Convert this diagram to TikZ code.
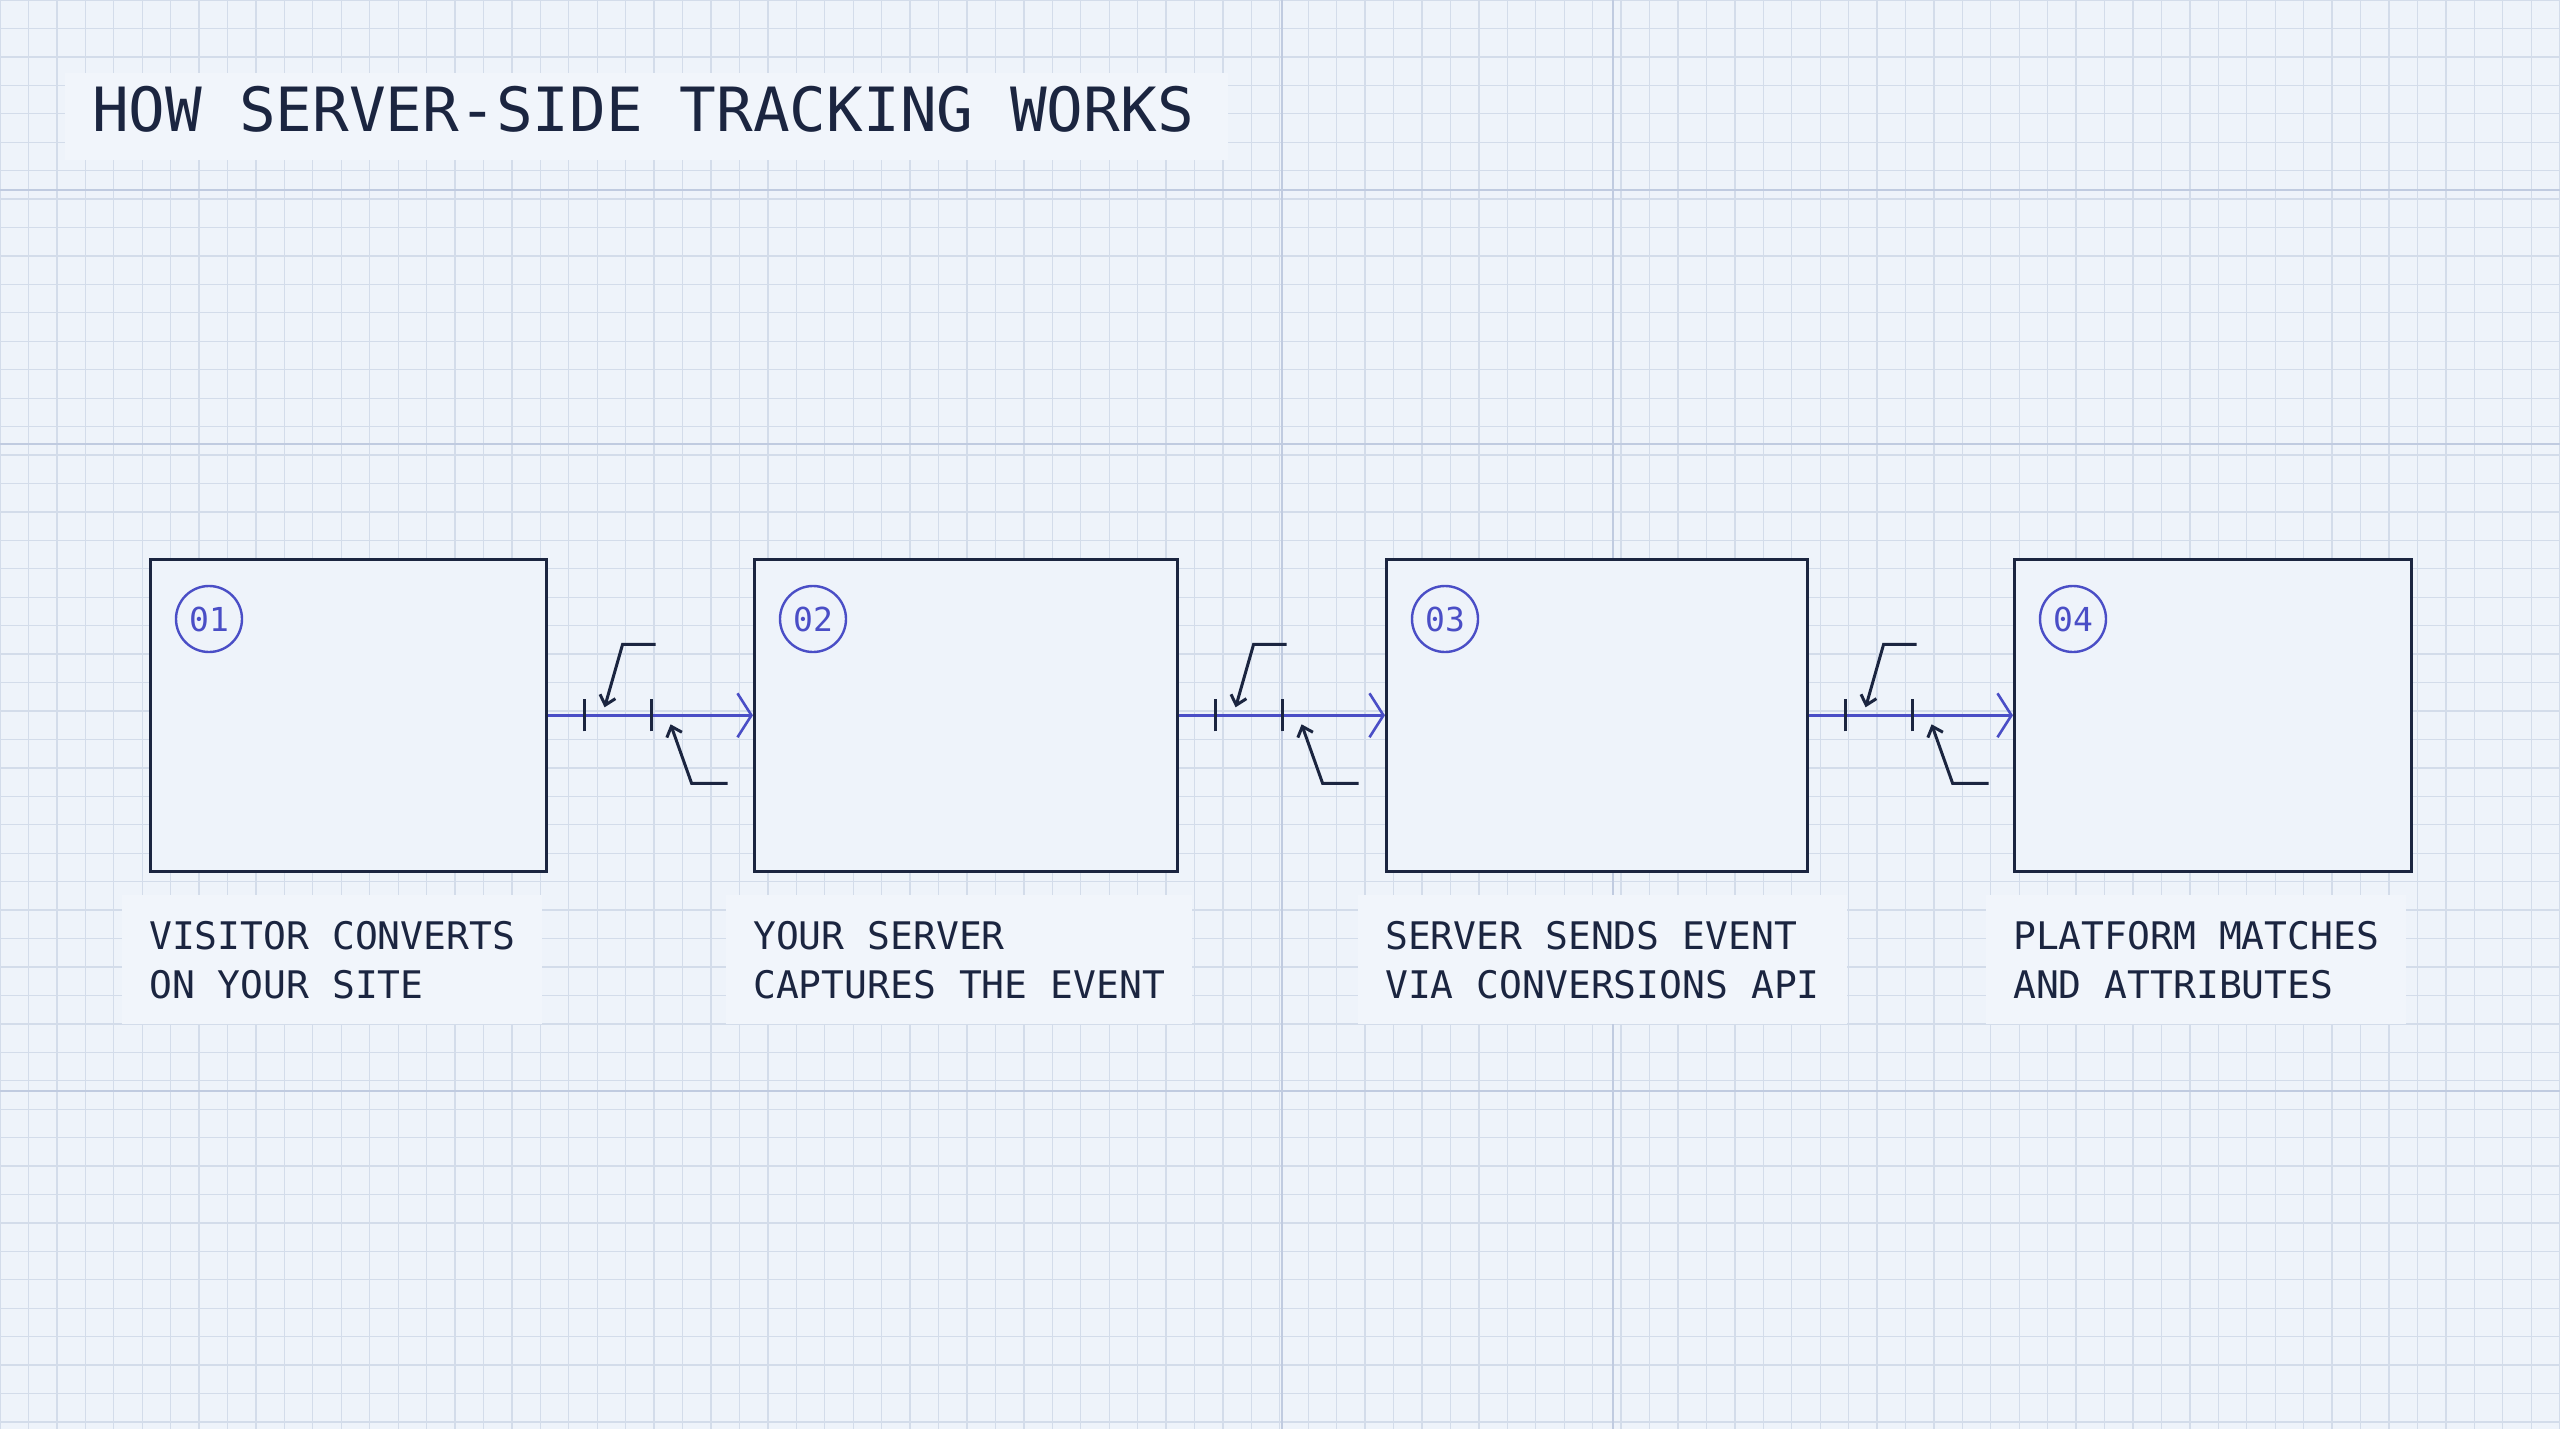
\documentclass[tikz,border=0pt]{standalone}
\usepackage{fontspec}
\setmonofont{DejaVu Sans Mono}
\usetikzlibrary{arrows.meta}
\definecolor{bg}{HTML}{EEF3FA}
\definecolor{gridc}{HTML}{D3DCEA}
\definecolor{gridm}{HTML}{C0CBE0}
\definecolor{navy}{HTML}{1B2540}
\definecolor{blu}{HTML}{4A4EC6}
\definecolor{lbl}{HTML}{F1F5FB}
\begin{document}
\begin{tikzpicture}[x=1pt,y=-1pt,
  box/.style={draw=navy,line width=2.6pt,fill=bg,minimum width=#1,minimum height=312pt,anchor=north west,inner sep=0pt},
  num/.style={draw=blu,line width=2.4pt,circle,minimum size=66pt,inner sep=0pt,font=\ttfamily\fontsize{33}{35}\selectfont,text=blu},
  lab/.style={anchor=north west,fill=lbl,inner xsep=27pt,inner ysep=14pt,align=left,font=\ttfamily\fontsize{38}{49}\selectfont,text=navy},
  flow/.style={draw=blu,line width=2.6pt,-{Straight Barb[length=14pt,width=44pt,line width=2.6pt]}},
  tick/.style={draw=navy,line width=3pt},
  call/.style={draw=navy,line width=3pt,-{Straight Barb[length=9pt,width=16pt,line width=3pt]}}]
\fill[bg] (0,0) rectangle (2560,1429);
\useasboundingbox (0,0) rectangle (2560,1429);
\foreach \i in {0,...,90} \draw[gridc,line width=1.3pt] (\i*28.44,0) -- (\i*28.44,1429);
\foreach \i in {0,...,51} \draw[gridc,line width=1.3pt] (0,\i*28.44) -- (2560,\i*28.44);
\foreach \x in {1282,1613} \draw[gridm,line width=1.6pt] (\x,0) -- (\x,1429);
\foreach \y in {190,444,1091} \draw[gridm,line width=1.6pt] (0,\y) -- (2560,\y);
\node[fill=lbl,anchor=north west,minimum width=1163pt,minimum height=87pt,inner sep=0pt] (tbg) at (65,73) {};
\node[anchor=west,inner sep=0pt,text=navy,font=\ttfamily\fontsize{61}{61}\selectfont] (title) at (92,109) {HOW SERVER-SIDE TRACKING WORKS};
\node[box=396pt] (b1) at (149,558) {};
\node[box=423pt] (b2) at (753,558) {};
\node[box=421pt] (b3) at (1385,558) {};
\node[box=397pt] (b4) at (2013,558) {};
\foreach \b/\n in {b1/01,b2/02,b3/03,b4/04} \node[num] (n\b) at ([xshift=60pt,yshift=-61pt]\b.north west) {\n};
\node[lab] (l1) at (122,895) {\rule{0pt}{40pt}VISITOR CONVERTS\\ON YOUR SITE\rule[-12pt]{0pt}{1pt}};
\node[lab] (l2) at (726,895) {\rule{0pt}{40pt}YOUR SERVER\\CAPTURES THE EVENT\rule[-12pt]{0pt}{1pt}};
\node[lab] (l3) at (1358,895) {\rule{0pt}{40pt}SERVER SENDS EVENT\\VIA CONVERSIONS API\rule[-12pt]{0pt}{1pt}};
\node[lab] (l4) at (1986,895) {\rule{0pt}{40pt}PLATFORM MATCHES\\AND ATTRIBUTES\rule[-12pt]{0pt}{1pt}};
\foreach \a/\c in {b1/b2,b2/b3,b3/b4}{
  \coordinate (s\a) at (\a.east);
  \draw[flow] (\a.east) -- (\c.west);
  \draw[tick] ([xshift=37pt,yshift=-16pt]s\a) -- ([xshift=37pt,yshift=16pt]s\a);
  \draw[tick] ([xshift=104pt,yshift=-16pt]s\a) -- ([xshift=104pt,yshift=16pt]s\a);
  \coordinate (u1\a) at ([xshift=108pt,yshift=71pt]s\a);
  \coordinate (u2\a) at ([xshift=75pt,yshift=71pt]s\a);
  \coordinate (u3\a) at ([xshift=57pt,yshift=8pt]s\a);
  \draw[call] (u1\a) -- (u2\a) -- (u3\a);
  \coordinate (d1\a) at ([xshift=180pt,yshift=-68pt]s\a);
  \coordinate (d2\a) at ([xshift=144pt,yshift=-68pt]s\a);
  \coordinate (d3\a) at ([xshift=123pt,yshift=-9pt]s\a);
  \draw[call] (d1\a) -- (d2\a) -- (d3\a);
}
\end{tikzpicture}
\end{document}
